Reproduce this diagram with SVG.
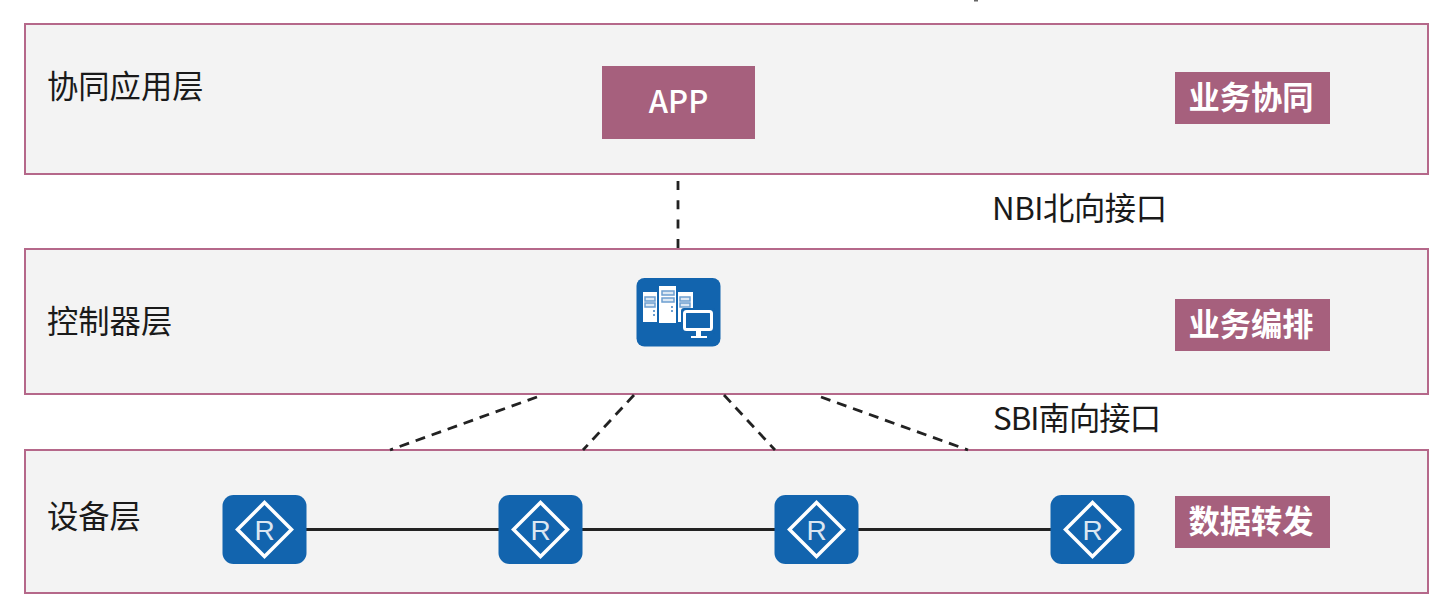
<svg xmlns="http://www.w3.org/2000/svg" xmlns:xlink="http://www.w3.org/1999/xlink" width="1445" height="609" viewBox="0 0 1445 609">
<style>
text{font-family:"Noto Sans CJK SC","Noto Sans",sans-serif;}
.layer{fill:#f3f3f3;stroke:#b5688a;stroke-width:2;}
.lbl{font-size:31.300px;fill:#1a1a1a;}
.tag{fill:#a6607d;}
.tagt{font-size:31.300px;fill:#fff;font-weight:700;text-anchor:middle;}
.dash{stroke:#222;stroke-width:2.800;stroke-dasharray:10 7;fill:none;}
.ico{fill:#1264ae;}
.w{fill:#fff;}
</style>
<defs>
<g id="router">
<rect x="0" y="0" width="84" height="69" rx="11" class="ico"/>
<path d="M42 7.500 L69 34.500 L42 61.500 L15 34.500 Z" fill="none" stroke="#fff" stroke-width="3.500"/>
<text x="42" y="45" font-size="28" fill="#fff" text-anchor="middle" style="font-family:'Liberation Sans',sans-serif" opacity="0.85">R</text>
</g>
</defs>
<rect x="0" y="0" width="1445" height="609" fill="#fff"/>
<rect x="974" y="0" width="4" height="1.500" fill="#666"/>
<g id="layer-app">
<rect class="layer" x="25" y="24" width="1403" height="150"/>
<text class="lbl" x="47" y="98">协同应用层</text>
</g>
<g id="layer-ctrl">
<rect class="layer" x="25" y="249" width="1403" height="145"/>
<text class="lbl" x="47" y="333">控制器层</text>
</g>
<g id="layer-dev">
<rect class="layer" x="25" y="450" width="1403" height="143"/>
<text class="lbl" x="47" y="528">设备层</text>
</g>
<g id="connectors">
<path class="dash" style="stroke-dasharray:9 10.300" d="M678 181V248"/>
<path class="dash" d="M537 397L390 450"/>
<path class="dash" d="M634 395L583 450"/>
<path class="dash" d="M724 395L775 450"/>
<path class="dash" d="M821 397L968 450"/>
<path d="M306 529.500H1051" stroke="#222" stroke-width="3" fill="none"/>
</g>
<g id="app">
<rect class="tag" x="602" y="66" width="153" height="73"/>
<text x="678.500" y="113" font-size="31" font-weight="500" fill="#fff" text-anchor="middle">APP</text>
</g>
<g id="tag-collab"><rect class="tag" x="1175" y="72" width="155" height="52"/><text class="tagt" x="1251" y="109">业务协同</text></g>
<g id="tag-orch"><rect class="tag" x="1175" y="299" width="155" height="52"/><text class="tagt" x="1251" y="336">业务编排</text></g>
<g id="tag-fwd"><rect class="tag" x="1175" y="496" width="155" height="52"/><text class="tagt" x="1251" y="533">数据转发</text></g>
<g id="nbi"><text class="lbl" x="992" y="220" textLength="175">NBI北向接口</text></g>
<g id="sbi"><text class="lbl" x="993" y="430" textLength="168">SBI南向接口</text></g>
<g id="controller">
<rect x="636.500" y="278" width="84" height="68.500" rx="8" class="ico"/>
<rect class="w" x="643" y="292" width="14" height="30"/>
<rect class="w" x="659" y="286" width="17" height="37"/>
<rect class="w" x="678" y="292" width="15" height="30"/>
<g fill="#dce8f4" stroke="#6d9fd0" stroke-width="1.500">
<rect x="645" y="297" width="10" height="4"/><rect x="645" y="303" width="10" height="4"/>
<rect x="662" y="291" width="12" height="4"/><rect x="662" y="298" width="12" height="4"/>
<rect x="680" y="297" width="10" height="4"/><rect x="680" y="303" width="10" height="4"/>
</g>
<g fill="#6d9fd0">
<rect x="653" y="310" width="2" height="2"/><rect x="653" y="314" width="2" height="2"/>
<rect x="671" y="306" width="2" height="2"/><rect x="671" y="310" width="2" height="2"/>
</g>
<rect x="681" y="308" width="34" height="26" rx="3" class="ico"/>
<rect x="684.500" y="311.500" width="27" height="18" rx="2" fill="#1264ae" stroke="#fff" stroke-width="3"/>
<rect class="w" x="696" y="331" width="5" height="5"/>
<rect class="w" x="691" y="336" width="16" height="2"/>
</g>
<g id="router-1"><use xlink:href="#router" href="#router" x="222.500" y="495"/></g>
<g id="router-2"><use xlink:href="#router" href="#router" x="498.500" y="495"/></g>
<g id="router-3"><use xlink:href="#router" href="#router" x="774.500" y="495"/></g>
<g id="router-4"><use xlink:href="#router" href="#router" x="1050.500" y="495"/></g>
</svg>
